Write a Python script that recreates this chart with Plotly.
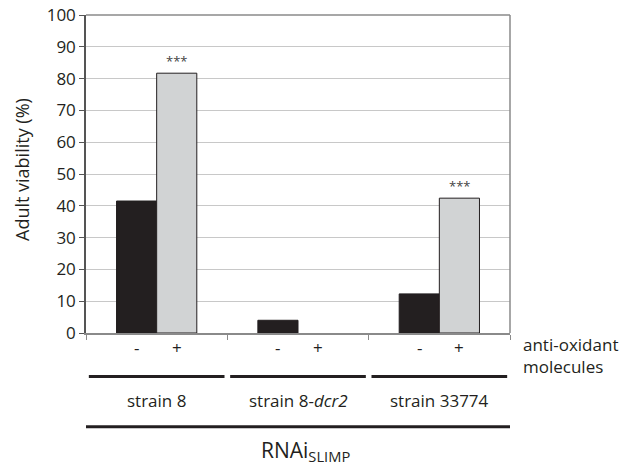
import plotly.graph_objects as go

groups = ["strain 8", "strain 8-<i>dcr2</i>", "strain 33774"]
minus_vals = [41.5, 4.0, 12.3]
plus_vals = [81.7, 0.0, 42.4]
signif = ["***", "", "***"]
cond_labels = ["-", "+"]
y_ticks = [0, 10, 20, 30, 40, 50, 60, 70, 80, 90, 100]

FONT = "Open Sans"
TXT = "#231f20"
off = 0.142
w = 0.284
idx = list(range(len(groups)))

fig = go.Figure()
fig.add_trace(go.Bar(x=[i - off for i in idx], y=minus_vals, width=w,
                     marker=dict(color="#231f20", line=dict(color="#231f20", width=1))))
fig.add_trace(go.Bar(x=[i + off for i in idx], y=plus_vals, width=w,
                     marker=dict(color="#d1d3d4",
                                 line=dict(color="#231f20",
                                           width=[1 if v > 0 else 0 for v in plus_vals]))))

ann = []
for i, g in enumerate(groups):
    for s, lab in zip((-off, off), cond_labels):
        ann.append(dict(x=i + s, y=0, xref="x", yref="paper", text=lab, showarrow=False,
                        yanchor="middle", yshift=-14, font=dict(size=17, color=TXT, family=FONT)))
    ann.append(dict(x=i, y=0, xref="x", yref="paper", text=g, showarrow=False,
                    yanchor="middle", yshift=-67, font=dict(size=17, color=TXT, family=FONT)))
    if signif[i]:
        ann.append(dict(x=i + off, y=plus_vals[i], xref="x", yref="y", text=signif[i],
                        showarrow=False, yanchor="middle", yshift=12,
                        font=dict(size=13, color="#444", family=FONT)))

ann.append(dict(x=1, y=0, xref="paper", yref="paper", text="anti-oxidant<br>molecules",
                showarrow=False, xanchor="left", yanchor="top", align="left", xshift=11, yshift=2,
                font=dict(size=17, color=TXT, family=FONT)))
ann.append(dict(x=1.05, y=0, xref="x", yref="paper", text="RNAi<sub>SLIMP</sub>",
                showarrow=False, yanchor="middle", yshift=-118,
                font=dict(size=21, color=TXT, family=FONT)))
ann.append(dict(x=0, y=0.5, xref="paper", yref="paper", text="Adult viability (%)",
                showarrow=False, textangle=-90, xanchor="center", yanchor="middle",
                xshift=-64, yshift=4, font=dict(size=18, color=TXT, family=FONT)))

shapes = []
for i in idx:
    shapes.append(dict(type="line", xref="x", yref="paper", x0=i - 0.5 + 0.02, x1=i + 0.5 - 0.02,
                       y0=-0.137, y1=-0.137, line=dict(color=TXT, width=3)))
shapes.append(dict(type="line", xref="x", yref="paper", x0=-0.5, x1=2.53,
                   y0=-0.295, y1=-0.295, line=dict(color=TXT, width=3)))
# plot frame (top and right)
shapes.append(dict(type="line", xref="paper", yref="paper", x0=0, x1=1, y0=1, y1=1,
                   line=dict(color="#8a8a8a", width=1.5)))
shapes.append(dict(type="line", xref="paper", yref="paper", x0=1, x1=1, y0=0, y1=1,
                   line=dict(color="#8a8a8a", width=1.5)))

# page adds an 8px body margin, so the figure is 8px smaller and shifted
fig.update_layout(
    width=630, height=458,
    margin=dict(l=78, r=128, t=7, b=133, autoexpand=False),
    paper_bgcolor="white", plot_bgcolor="white",
    showlegend=False,
    annotations=ann, shapes=shapes,
    xaxis=dict(range=[-0.5, 2.5], tickvals=[-0.5, 0.5, 1.5, 2.5], showticklabels=False,
               ticks="outside", ticklen=5, tickcolor="#8a8a8a", showgrid=False, zeroline=False,
               showline=True, linecolor="#8a8a8a", linewidth=1.5),
    yaxis=dict(range=[0, 100], tickvals=y_ticks, ticks="outside", ticklen=5,
               tickcolor="#555", showline=True, linecolor="#555", linewidth=1.5,
               gridcolor="#c8c8c8", gridwidth=1, zeroline=False, ticklabeloverflow="allow",
               tickfont=dict(size=17, color=TXT, family=FONT)),
)
fig.write_html("out.html")
